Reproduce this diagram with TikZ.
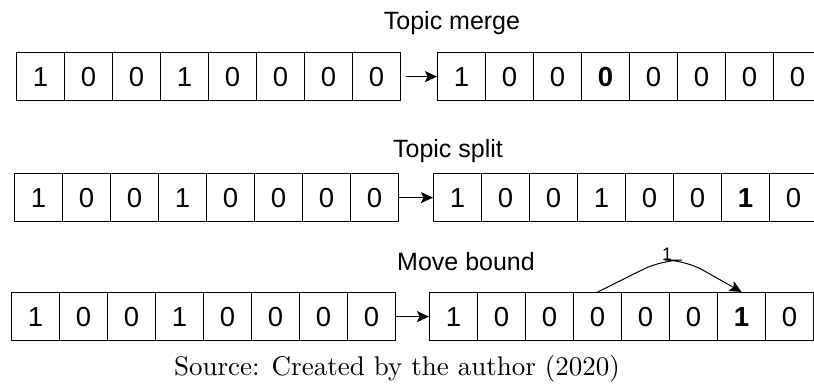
\documentclass[tikz,border=0pt]{standalone}
\usepackage{fontspec}
\newfontfamily\arialfont{Liberation Sans}
\newfontfamily\capfont[Extension=.otf]{lmroman10-regular}
\usetikzlibrary{arrows.meta}

\tikzset{
  bit/.style={draw, line width=1.2pt, minimum width=48pt, minimum height=48pt,
    inner sep=0pt, anchor=north west, font=\arialfont\fontsize{27.5}{27.5}\selectfont},
  heading/.style={anchor=base, font=\arialfont\fontsize{25}{25}\selectfont},
  flip/.style={-{Stealth[length=12pt,width=11pt,inset=2.5pt]}, line width=1.2pt},
}

\begin{document}
\begin{tikzpicture}[x=1pt, y=-1pt]
  \useasboundingbox (0,0) rectangle (814,383);
  \clip (0,0) rectangle (814,383);

  % topic merge
  \node[heading] (merge) at (452,29) {Topic merge};
  \foreach \v [count=\i] in {1,0,0,1,0,0,0,0}
    \node[bit] (a\i) at ({16+48*(\i-1)},52) {\v};
  \foreach \v [count=\i] in {1,0,0,\textbf{0},0,0,0,0}
    \node[bit] (b\i) at ({437+48*(\i-1)},52) {\v};
  \draw[flip] ([xshift=5pt]a8.east) -- (b1.west);

  % topic split
  \node[heading] (split) at (448,157) {Topic split};
  \foreach \v [count=\i] in {1,0,0,1,0,0,0,0}
    \node[bit] (c\i) at ({14+48*(\i-1)},173) {\v};
  \foreach \v [count=\i] in {1,0,0,1,0,0,\textbf{1},0}
    \node[bit] (d\i) at ({433+48*(\i-1)},173) {\v};
  \draw[flip] (c8.east) -- (d1.west);

  % move bound
  \node[heading] (move) at (466,270) {Move bound};
  \foreach \v [count=\i] in {1,0,0,1,0,0,0,0}
    \node[bit] (e\i) at ({11+48*(\i-1)},292) {\v};
  \foreach \v [count=\i] in {1,0,0,0,0,0,\textbf{1},0}
    \node[bit] (f\i) at ({429+48*(\i-1)},292) {\v};
  \draw[flip] (e8.east) -- (f1.west);
  \draw[flip, line width=1pt, rounded corners=20pt] (f4.north) -- (662,260) -- (685,260) -- (f7.north);
  \node[anchor=base, font=\arialfont\fontsize{18}{18}\selectfont] (hop) at (667,260) {1};

  \node[anchor=base, font=\capfont\fontsize{27}{32}\selectfont] (src) at (397,375)
    {Source: Created by the author (2020)};
\end{tikzpicture}
\end{document}
